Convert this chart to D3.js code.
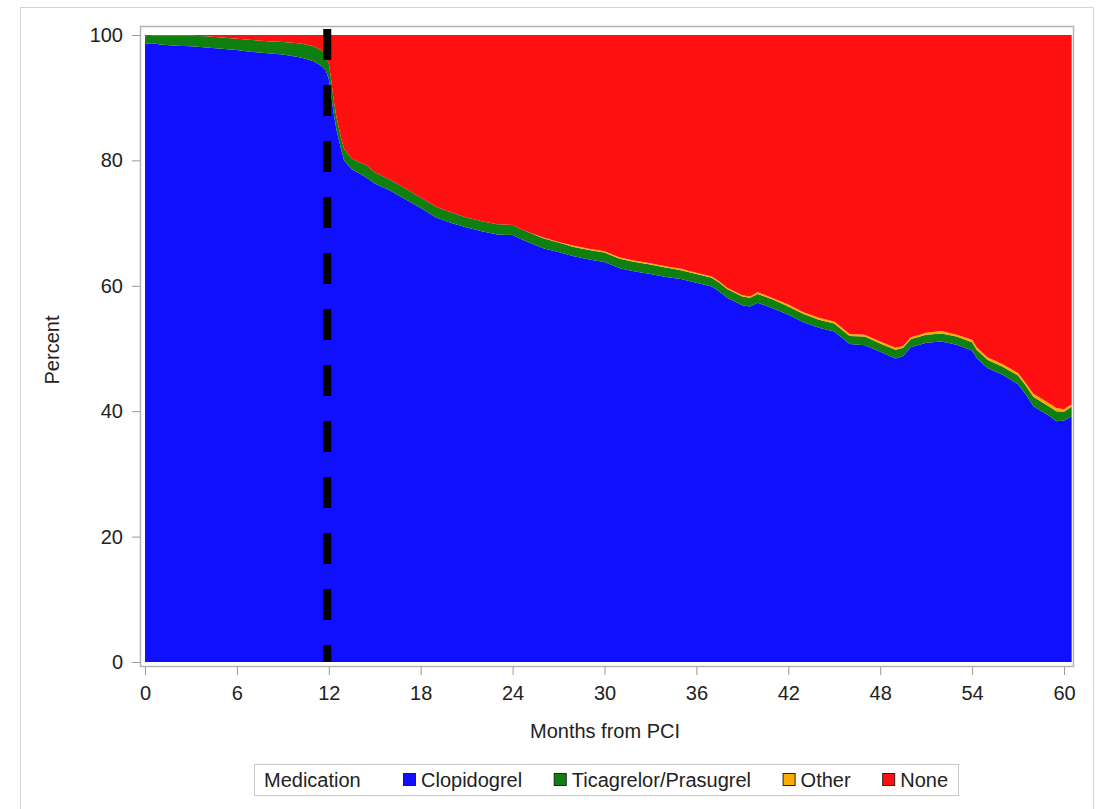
<!DOCTYPE html>
<html>
<head>
<meta charset="utf-8">
<script src="https://cdn.jsdelivr.net/npm/d3@7"></script>
<style>
  body { margin: 0; background: #fff; }
  svg text { font-family: "Liberation Sans", Arial, sans-serif; fill: #222; }
  .axis path, .axis line { stroke: #9a9a9a; }
</style>
</head>
<body>
<svg id="chart" width="1099" height="809"></svg>
<script>
// months from PCI
var months = [0, 0.5, 1, 2, 3, 4, 5, 6, 7, 8, 9, 10, 10.5, 11, 11.5, 11.8, 12, 12.15, 12.3, 12.5, 12.8, 13, 13.5, 14, 14.5, 15, 16, 17, 18, 19, 20,
  21, 22, 23, 24, 24.5, 25, 26, 27, 28, 29, 30, 31, 32, 33, 34, 35, 36, 37, 37.5, 38, 39, 39.5, 40, 41, 42, 43, 44, 45,
  46, 47, 48, 49, 49.5, 50, 51, 52, 53, 54, 54.3, 55, 56, 57, 57.5, 58, 59, 59.5, 60, 60.5];
// percent on clopidogrel
var clopidogrel = [98.6, 98.7, 98.5, 98.3, 98.2, 98.0, 97.8, 97.6, 97.3, 97.1, 96.9, 96.5, 96.2, 95.8, 95.1, 94.4, 93.0, 90.6, 87.8, 84.9, 81.8, 80.0, 78.6, 77.9, 77.2, 76.3, 75.2, 73.8, 72.4, 70.9, 70.0,
  69.3, 68.7, 68.2, 68.1, 67.5, 67.0, 66.0, 65.4, 64.7, 64.2, 63.8, 62.8, 62.3, 61.9, 61.4, 61.1, 60.5, 59.9, 59.1, 58.1, 56.9, 56.7, 57.3, 56.4, 55.4, 54.2, 53.3, 52.7,
  50.7, 50.5, 49.5, 48.4, 48.8, 50.2, 50.9, 51.1, 50.6, 49.7, 48.5, 46.9, 45.8, 44.3, 42.7, 40.8, 39.3, 38.4, 38.5, 39.2];
// percent on ticagrelor or prasugrel
var ticagrelor = [1.2, 1.2, 1.4, 1.6, 1.7, 1.8, 1.8, 1.8, 1.9, 1.9, 2.0, 2.2, 2.3, 2.4, 2.5, 2.5, 2.4, 2.3, 2.1, 2.0, 1.8, 1.8, 1.7, 1.8, 2.0, 1.8, 1.7, 1.7, 1.7, 1.7, 1.7,
  1.6, 1.6, 1.6, 1.6, 1.6, 1.6, 1.6, 1.5, 1.5, 1.5, 1.5, 1.5, 1.5, 1.5, 1.5, 1.4, 1.4, 1.4, 1.4, 1.4, 1.4, 1.4, 1.4, 1.4, 1.3, 1.3, 1.3, 1.3,
  1.3, 1.4, 1.3, 1.4, 1.3, 1.3, 1.3, 1.3, 1.3, 1.3, 1.3, 1.3, 1.3, 1.4, 1.4, 1.5, 1.5, 1.6, 1.4, 1.5];
// percent on other P2Y12 inhibitor
var other = [0, 0, 0, 0, 0, 0, 0, 0, 0, 0, 0, 0, 0, 0, 0, 0, 0, 0, 0, 0, 0, 0, 0, 0, 0, 0, 0, 0, 0, 0, 0,
  0, 0, 0, 0, 0, 0, 0.1, 0.1, 0.2, 0.2, 0.2, 0.2, 0.2, 0.2, 0.2, 0.2, 0.2, 0.2, 0.2, 0.2, 0.2, 0.2, 0.3, 0.2, 0.3, 0.3, 0.3, 0.3,
  0.3, 0.3, 0.3, 0.3, 0.3, 0.3, 0.3, 0.4, 0.3, 0.4, 0.4, 0.4, 0.4, 0.4, 0.4, 0.5, 0.5, 0.5, 0.4, 0.4];

var xTicks = [0, 6, 12, 18, 24, 30, 36, 42, 48, 54, 60];
var yTicks = [0, 20, 40, 60, 80, 100];
var keys = ["Clopidogrel", "Ticagrelor/Prasugrel", "Other", "None"];
var colors = ["#1010ff", "#0f800f", "#ffaa00", "#ff1010"];
var fontSize = "20px";

var svg = d3.select("#chart");

// outer frame of the graph
svg.append("rect")
  .attr("x", 20.5).attr("y", 7.5)
  .attr("width", 1073).attr("height", 820)
  .attr("fill", "none").attr("stroke", "#d4d4d4");

var x = d3.scaleLinear().domain([0, 60]).range([145, 1064]);
var y = d3.scaleLinear().domain([0, 100]).range([662, 35]);

var rows = months.map(function(m, i) {
  return {
    month: m,
    "Clopidogrel": clopidogrel[i],
    "Ticagrelor/Prasugrel": ticagrelor[i],
    "Other": other[i],
    "None": 100 - clopidogrel[i] - ticagrelor[i] - other[i]
  };
});

var stacked = d3.stack().keys(keys)(rows);

var area = d3.area()
  .x(function(d) { return x(d.data.month); })
  .y0(function(d) { return y(d[0]); })
  .y1(function(d) { return y(d[1]); });

svg.append("g")
  .selectAll("path")
  .data(stacked)
  .enter().append("path")
  .attr("fill", function(d, i) { return colors[i]; })
  .attr("d", area);

// 12 month mark
svg.append("line")
  .attr("x1", x(11.9)).attr("x2", x(11.9))
  .attr("y1", y(100.95)).attr("y2", y(0))
  .attr("stroke", "#000")
  .attr("stroke-width", 8)
  .attr("stroke-dasharray", "31,25");

// plot frame
svg.append("rect")
  .attr("x", 140.5).attr("y", 26.5)
  .attr("width", 933).attr("height", 640)
  .attr("fill", "none").attr("stroke", "#b4b4b4").attr("stroke-width", 1.5);

var xAxis = svg.append("g")
  .attr("class", "axis")
  .attr("transform", "translate(0,667)")
  .call(d3.axisBottom(x).tickValues(xTicks).tickSize(8).tickPadding(11).tickSizeOuter(0));
xAxis.select(".domain").remove();

var yAxis = svg.append("g")
  .attr("class", "axis")
  .attr("transform", "translate(140,0)")
  .call(d3.axisLeft(y).tickValues(yTicks).tickSize(8).tickPadding(9).tickSizeOuter(0));
yAxis.select(".domain").remove();

svg.selectAll(".axis text").style("font-size", fontSize).style("fill", "#222");

svg.append("text")
  .attr("x", 605).attr("y", 738)
  .attr("text-anchor", "middle")
  .style("font-size", fontSize)
  .text("Months from PCI");

svg.append("text")
  .attr("transform", "translate(59,350) rotate(-90)")
  .attr("text-anchor", "middle")
  .style("font-size", fontSize)
  .text("Percent");

// legend
var legend = svg.append("g").attr("transform", "translate(254,764)");
legend.append("rect")
  .attr("x", 0.5).attr("y", 0.5).attr("width", 704).attr("height", 31)
  .attr("fill", "none").attr("stroke", "#c8c8c8");
legend.append("text").attr("x", 10).attr("y", 23).style("font-size", fontSize).text("Medication");

// lay the entries out from the first swatch to the right edge of the box
var items = keys.map(function(k, i) {
  var g = legend.append("g");
  g.append("rect")
    .attr("x", 0.5).attr("y", 9.5).attr("width", 12).attr("height", 12)
    .attr("fill", colors[i]).attr("stroke", "#222");
  var t = g.append("text").attr("x", 18).attr("y", 23).style("font-size", fontSize).text(k);
  return { g: g, w: 18 + t.node().getComputedTextLength() };
});
var startX = 149, endX = 694;
var used = d3.sum(items, function(d) { return d.w; });
var gap = (endX - startX - used) / (items.length - 1);
var pos = startX;
items.forEach(function(d) {
  d.g.attr("transform", "translate(" + pos + ",0)");
  pos += d.w + gap;
});
</script>
</body>
</html>
